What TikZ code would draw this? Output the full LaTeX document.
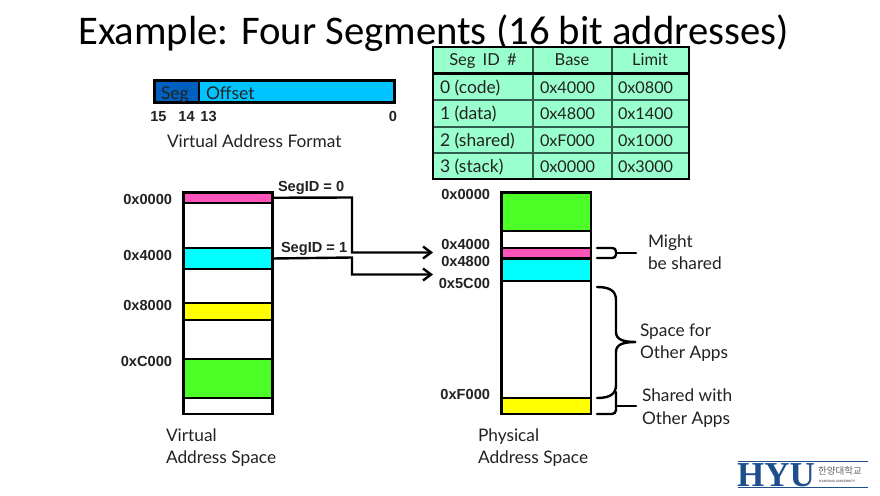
\documentclass[tikz,border=0pt]{standalone}
\usepackage{fontspec}
\setmainfont{Lato}
\newfontfamily\titlefont{Carlito}
\newfontfamily\arialfont{Liberation Sans}
\newfontfamily\timesfont{Liberation Serif}
\newfontfamily\krfont{Noto Sans CJK KR}
\usetikzlibrary{arrows.meta,calc}
\definecolor{tablegreen}{HTML}{99FFCC}
\definecolor{tableline}{HTML}{2F5F4A}
\definecolor{segpink}{HTML}{FF55BB}
\definecolor{segcyan}{HTML}{00FFFF}
\definecolor{segyellow}{HTML}{FFFF00}
\definecolor{seggreen}{HTML}{4CFF26}
\definecolor{segblue}{HTML}{0060C0}
\definecolor{offblue}{HTML}{00C4FF}
\definecolor{hyublue}{HTML}{1F4E8C}
\definecolor{txt}{HTML}{222222}
\tikzset{
  box/.style={draw=black,line width=2.6pt,inner sep=0pt,outer sep=0pt},
  lbl/.style={anchor=base west,inner sep=0pt,outer sep=0pt,text=txt,font=\fontsize{17.3}{20}\selectfont},
  addr/.style={anchor=base east,inner sep=0pt,outer sep=0pt,text=txt,font=\arialfont\bfseries\fontsize{14.6}{16}\selectfont},
  bitno/.style={anchor=base,inner sep=0pt,outer sep=0pt,text=txt,font=\arialfont\bfseries\fontsize{14.6}{16}\selectfont},
  seglbl/.style={anchor=base west,inner sep=0pt,outer sep=0pt,text=txt,font=\arialfont\bfseries\fontsize{14.6}{16}\selectfont},
  cellc/.style={anchor=base,inner sep=0pt,outer sep=0pt,text=txt,font=\fontsize{16.5}{20}\selectfont},
  celln/.style={anchor=base west,inner sep=0pt,outer sep=0pt,text=txt,font=\fontsize{16.2}{20}\selectfont},
  celll/.style={anchor=base west,inner sep=0pt,outer sep=0pt,text=txt,font=\fontsize{17.5}{20}\selectfont},
  conn/.style={draw=black,line width=2.4pt,line join=miter},
  arrowed/.style={conn,-{Straight Barb[length=8pt,width=12pt,line width=2.4pt]}},
  brace/.style={draw=black,line width=2.4pt,line cap=round},
  thinl/.style={draw=tableline,line width=1.6pt},
  thickl/.style={draw=black,line width=2.4pt}
}
\newcommand{\segbox}[6]{\node[box,fill=#6,minimum width={(#4-#2)*1pt},minimum height={(#5-#3)*1pt}] (#1) at ({(#2+#4)/2},{(#3+#5)/2}) {};}
\begin{document}
\begin{tikzpicture}[x=1pt,y=-1pt]
\useasboundingbox (0,0) rectangle (880,495);
\fill[white] (0,0) rectangle (880,495);
% title
\node[anchor=base west,inner sep=0pt,text=black,font=\titlefont\fontsize{40.7}{44}\selectfont] (title) at (78,45) {Example: Four Segments (16 bit addresses)};
% table
\fill[tablegreen] (433,47) rectangle (689,179);
\foreach \yy in {100,127,153}{\draw[thinl] (433,\yy) -- (689,\yy);}
\foreach \xx in {533,612}{\draw[thinl] (\xx,47) -- (\xx,179);}
\draw[thickl] (433,73.5) -- (689,73.5);
\draw[thickl] (433,47) rectangle (689,179);
\node[cellc] (h1) at (483,66) {Seg\hspace{3pt} ID\hspace{3pt} \#};
\node[cellc] (h2) at (572,66) {Base};
\node[cellc] (h3) at (650,66) {Limit};
\node[celll] (r1a) at (440,93) {0 (code)};
\node[celln] (r1b) at (540,93) {0x4000};
\node[celln] (r1c) at (618,93) {0x0800};
\node[celll] (r2a) at (440,119) {1 (data)};
\node[celln] (r2b) at (540,119) {0x4800};
\node[celln] (r2c) at (618,119) {0x1400};
\node[celll] (r3a) at (440,146) {2 (shared)};
\node[celln] (r3b) at (540,146) {0xF000};
\node[celln] (r3c) at (618,146) {0x1000};
\node[celll] (r4a) at (440,172) {3 (stack)};
\node[celln] (r4b) at (540,172) {0x0000};
\node[celln] (r4c) at (618,172) {0x3000};
% format bar
\segbox{fseg}{154.5}{80.5}{199}{102.5}{segblue}
\segbox{foff}{199}{80.5}{394.5}{102.5}{offblue}
\node[celll] (tseg) at (161,99) {Seg};
\node[celll] (toff) at (206,99) {Offset};
\node[bitno] (b15) at (158.5,121) {15};
\node[bitno] (b14) at (186.5,121) {14};
\node[bitno] (b13) at (208.5,121) {13};
\node[bitno] (b0) at (393,121) {0};
\node[lbl] (vaf) at (167,147) {Virtual Address Format};
% virtual stack
\segbox{vall}{183.5}{192.5}{272.5}{414}{white}
\segbox{vpink}{183.5}{192.5}{272.5}{203}{segpink}
\segbox{vcyan}{183.5}{248}{272.5}{269}{segcyan}
\segbox{vyellow}{183.5}{303}{272.5}{320}{segyellow}
\segbox{vgreen}{183.5}{359}{272.5}{398}{seggreen}
\node[addr] (v0) at (172,204) {0x0000};
\node[addr] (v4) at (172,260) {0x4000};
\node[addr] (v8) at (172,310) {0x8000};
\node[addr] (vc) at (172,366) {0xC000};
\node[lbl] (vname1) at (166,441) {Virtual};
\node[lbl] (vname2) at (166,463) {Address Space};
% physical stack
\segbox{pall}{501.5}{192.5}{591}{414}{white}
\segbox{pgreen}{501.5}{192.5}{591}{231}{seggreen}
\segbox{ppink}{501.5}{248}{591}{258.5}{segpink}
\segbox{pcyan}{501.5}{258.5}{591}{281}{segcyan}
\segbox{pyellow}{501.5}{398}{591}{414}{segyellow}
\node[addr] (p0) at (490,199) {0x0000};
\node[addr] (p4) at (490,249) {0x4000};
\node[addr] (p48) at (490,266) {0x4800};
\node[addr] (p5) at (490,288) {0x5C00};
\node[addr] (pf) at (490,399) {0xF000};
\node[lbl] (pname1) at (478,441) {Physical};
\node[lbl] (pname2) at (478,463) {Address Space};
% connectors
\coordinate (e0) at (433,252.5);
\coordinate (e1) at (433,274.5);
\coordinate (m0) at (352,197.5);
\coordinate (m1) at (352,257.5);
\draw[arrowed] (vpink.east) -- (m0) |- (e0);
\draw[arrowed] (vcyan.east) -- (m1) |- (e1);
\node[seglbl] (s0) at (278,191) {SegID = 0};
\node[seglbl] (s1) at (281,252) {SegID = 1};
% braces
\draw[brace,rounded corners=3.5pt] (597,248) -- (616,248) -- (616,258) -- (597,258);
\draw[brace] (616,253) -- (636,253);
\draw[brace] (597,287) .. controls (610,287) and (616,291) .. (616,300) -- (616,332) .. controls (616,339) and (622,342) .. (636,342) .. controls (622,342) and (616,345) .. (616,352) -- (616,385) .. controls (616,394) and (610,398) .. (597,398);
\draw[brace,rounded corners=4pt] (616,392) -- (616,414) -- (597,414);
\draw[brace] (616,406) -- (636,406);
\node[lbl] (m1l) at (648,247) {Might};
\node[lbl] (m2l) at (648,269) {be shared};
\node[lbl] (s1l) at (640,336) {Space for};
\node[lbl] (s2l) at (640,358) {Other Apps};
\node[lbl] (o1l) at (642,401) {Shared with};
\node[lbl] (o2l) at (642,424) {Other Apps};
% logo
\draw[hyublue,line width=1pt] (738,461.5) -- (868,461.5);
\draw[hyublue,line width=1pt] (738,487) -- (868,487);
\node[anchor=base west,inner sep=0pt,text=hyublue,font=\timesfont\bfseries\fontsize{35}{36}\selectfont] (hyu) at (737,486) {HYU};
\node[anchor=base west,inner sep=0pt,text=txt!70,font=\krfont\fontsize{9.5}{11}\selectfont] (kr) at (818,474) {한양대학교};
\node[anchor=base west,inner sep=0pt,text=txt!70,font=\arialfont\bfseries\fontsize{3.2}{4}\selectfont] (en) at (819,482) {HANYANG UNIVERSITY};
\end{tikzpicture}
\end{document}
